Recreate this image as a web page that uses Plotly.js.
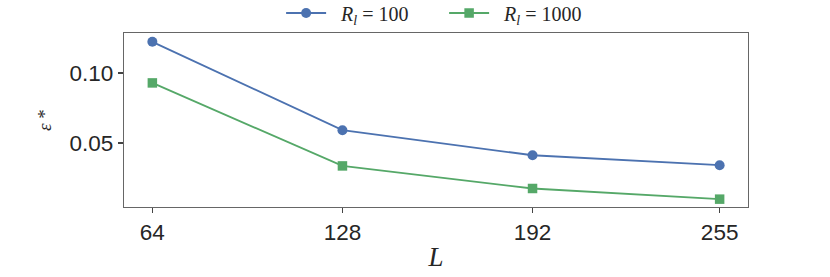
<!DOCTYPE html>
<html>
<head>
<meta charset="utf-8">
<script src="https://cdn.plot.ly/plotly-3.0.1.min.js"></script>
<style>html,body{margin:0;padding:0;background:#fff;}#chart{width:830px;height:277px;}</style>
</head>
<body>
<div id="chart"></div>
<script>
const L = [64, 128, 192, 255];
const eps_R100 = [0.1222, 0.0592, 0.0413, 0.0342];
const eps_R1000 = [0.0929, 0.0337, 0.0176, 0.0100];
const seriesNames = ['&nbsp;&nbsp;<i>R</i><sub><i>l</i></sub> = 100', '&nbsp;&nbsp;<i>R</i><sub><i>l</i></sub> = 1000'];
const xTicks = [64, 128, 192, 255];
const yTicks = [0.05, 0.10];
const yTickText = ['0.05', '0.10'];

const traces = [
  {x: L, y: eps_R100, name: seriesNames[0], mode: 'lines+markers', type: 'scatter',
   line: {color: '#4C72B0', width: 1.8}, marker: {symbol: 'circle', size: 10, color: '#4C72B0'}},
  {x: L, y: eps_R1000, name: seriesNames[1], mode: 'lines+markers', type: 'scatter',
   line: {color: '#55A868', width: 1.8}, marker: {symbol: 'square', size: 9.5, color: '#55A868'}}
];

const layout = {
  width: 830, height: 277,
  margin: {l: 124, r: 82, t: 33, b: 70, autoexpand: false},
  paper_bgcolor: '#fff', plot_bgcolor: '#fff',
  font: {family: 'Liberation Sans, Arial, sans-serif', color: '#262626'},
  showlegend: true,
  legend: {orientation: 'h', x: 0.513, xanchor: 'center', y: 1.115, yanchor: 'middle',
           bgcolor: 'rgba(0,0,0,0)',
           font: {family: 'Liberation Serif, DejaVu Serif, serif', size: 20, color: '#262626'},
           entrywidth: 108, entrywidthmode: 'pixels', itemwidth: 40, tracegroupgap: 0},
  xaxis: {range: [54.45, 264.55], tickmode: 'array', tickvals: xTicks, ticktext: xTicks.map(String),
          showgrid: false, zeroline: false, showline: true, mirror: true, linecolor: '#666', linewidth: 1.3,
          ticks: 'outside', ticklen: 5, tickcolor: '#444', tickwidth: 1.2,
          tickfont: {size: 22.5, color: '#262626'},
          title: {text: '<i>L</i>', font: {family: 'Liberation Serif, DejaVu Serif, serif', size: 27, color: '#262626'}, standoff: 2}},
  yaxis: {range: [0.0044, 0.1285], tickmode: 'array', tickvals: yTicks, ticktext: yTickText,
          showgrid: false, zeroline: false, showline: true, mirror: true, linecolor: '#666', linewidth: 1.3,
          ticks: 'outside', ticklen: 5, tickcolor: '#444', tickwidth: 1.2,
          tickfont: {size: 22.5, color: '#262626'},
          title: {text: '<i>ε</i> *', font: {family: 'Liberation Serif, DejaVu Serif, serif', size: 19, color: '#262626'}, standoff: 12}}
};

Plotly.newPlot('chart', traces, layout, {displayModeBar: false, staticPlot: true});
</script>
</body>
</html>
